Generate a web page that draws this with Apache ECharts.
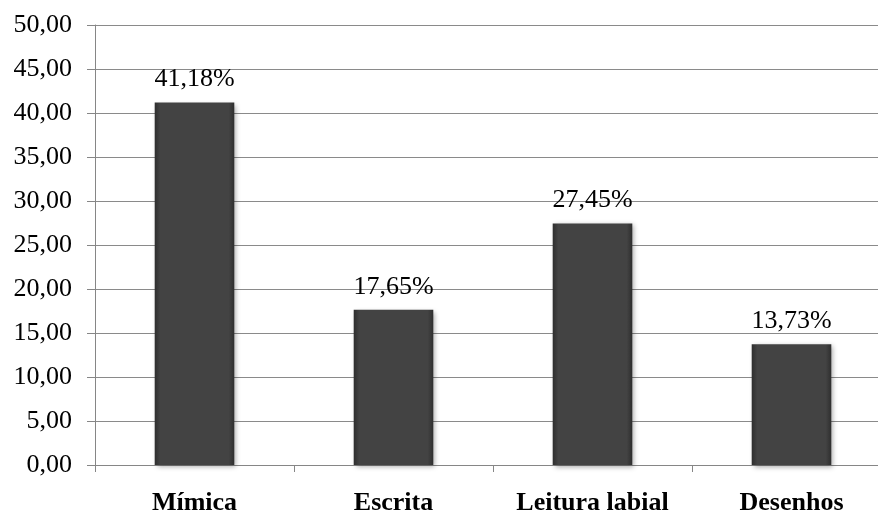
<!DOCTYPE html>
<html><head><meta charset="utf-8">
<script src="https://cdn.jsdelivr.net/npm/echarts@6/dist/echarts.min.js"></script>
<style>html,body{margin:0;padding:0;background:#fff}#c{width:878px;height:516px}</style>
</head><body><div id="c"></div>
<script>
const categories = ['Mímica', 'Escrita', 'Leitura labial', 'Desenhos'];
const values = [41.18, 17.65, 27.45, 13.73];
const yMin = 0, yMax = 50, yStep = 5;

const fmt = v => v.toFixed(2).replace('.', ',');
const chart = echarts.init(document.getElementById('c'), null, {renderer: 'canvas'});
chart.setOption({
  animation: false,
  backgroundColor: '#fff',
  textStyle: {fontFamily: 'Liberation Serif'},
  grid: {left: 95, width: 796, top: 25, bottom: 51, containLabel: false, outerBoundsMode: 'none'},
  xAxis: {
    type: 'category', data: categories,
    axisLine: {lineStyle: {color: '#868686', width: 1}},
    axisTick: {show: true, interval: 0, length: 7, lineStyle: {color: '#868686'}},
    axisLabel: {interval: 0, hideOverlap: false, color: '#000', fontSize: 26, fontWeight: 'bold', fontFamily: 'Liberation Serif', margin: 25},
    splitLine: {show: false}
  },
  yAxis: {
    type: 'value', min: yMin, max: yMax, interval: yStep,
    axisLine: {show: true, lineStyle: {color: '#868686', width: 1}},
    axisTick: {show: true, length: 8, lineStyle: {color: '#868686'}},
    axisLabel: {color: '#000', fontSize: 26, fontFamily: 'Liberation Serif', margin: 23, formatter: v => fmt(v)},
    splitLine: {show: true, lineStyle: {color: '#8a8a8a', width: 1}}
  },
  series: [{
    type: 'bar', data: values, barWidth: '40%',
    itemStyle: {
      color: new echarts.graphic.LinearGradient(0, 0, 1, 0, [
        {offset: 0, color: '#2e2e2e'}, {offset: 0.07, color: '#434343'},
        {offset: 0.93, color: '#434343'}, {offset: 1, color: '#2e2e2e'}
      ]),
      shadowColor: 'rgba(0,0,0,0.35)', shadowBlur: 5, shadowOffsetX: 2, shadowOffsetY: 2
    },
    label: {show: true, position: 'top', distance: 10, color: '#000', fontSize: 26, fontFamily: 'Liberation Serif', formatter: p => fmt(p.value) + '%'}
  }]
});
</script></body></html>
